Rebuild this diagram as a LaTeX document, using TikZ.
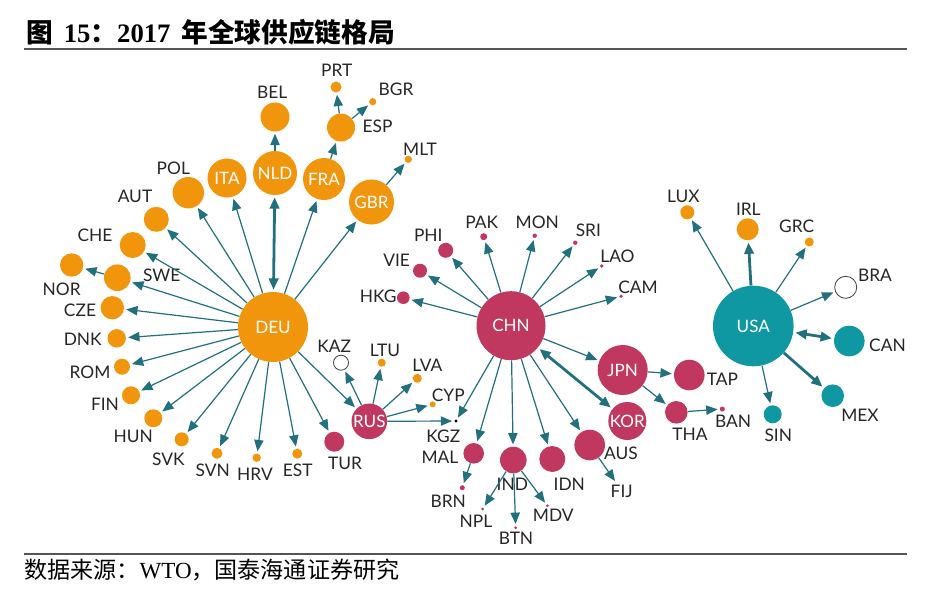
\documentclass[tikz,border=0pt]{standalone}
\usepackage{fontspec}
\setmainfont{Lato}
\newfontfamily\cjk{Noto Sans CJK SC}
\newfontfamily\lat{Liberation Serif}
\usetikzlibrary{arrows.meta}
\definecolor{orC}{RGB}{241,150,12}
\definecolor{rdC}{RGB}{192,55,95}
\definecolor{tlC}{RGB}{16,152,162}
\definecolor{arC}{RGB}{34,112,126}
\definecolor{ruleC}{RGB}{85,85,85}
\begin{document}
\begin{tikzpicture}[x=0.75pt,y=-0.75pt,
  nd/.style={circle,inner sep=0pt,minimum size=#1*1.5pt},
  on/.style={nd=#1,fill=orC},
  rn/.style={nd=#1,fill=rdC},
  tn/.style={nd=#1,fill=tlC},
  hn/.style={nd=#1,draw=black!75,line width=0.6pt,fill=white},
  kn/.style={nd=#1,fill=black},
  lab/.style={font=\fontsize{13}{15}\selectfont,text=black!85,inner sep=0pt},
  wl/.style={text=white,font=\fontsize{12.8}{15}\selectfont},
  tipA/.tip={Triangle[length=8.5pt,width=7pt]},
  ar/.style={draw=arC,line width=0.9pt,-tipA,shorten >=1.5pt},
  tk/.style={ar,line width=2.1pt},
  dbl/.style={tk,tipA-tipA,shorten <=1.5pt}
]
\useasboundingbox[fill=white] (0,0) rectangle (927,590);
% title and rules
\node[anchor=base west,inner sep=0pt] (title) at (26,42) {\fontsize{20}{24}\selectfont\bfseries{\cjk 图}\, {\lat 15}{\cjk ：}{\lat 2017}\, {\cjk 年全球供应链格局}};
\draw[ruleC,line width=1.5pt] (24,48.5) -- (907,48.5);
\draw[ruleC,line width=1.5pt] (24,554) -- (907,554);
\node[anchor=base west,inner sep=0pt] (source) at (24,578) {\fontsize{17.3}{20}\selectfont{\cjk 数据来源：}{\lat WTO}{\cjk ，国泰海通证券研究}};

% ---------- DEU cluster ----------
\node[on=35,wl] (DEU) at (273,327) {DEU};
\node[on=22,wl] (NLD) at (275,173) {NLD};
\node[on=14.5] (BEL) at (275,117) {};
\node[on=19.5,wl] (ITA) at (227,178) {ITA};
\node[on=21,wl] (FRA) at (324,179) {FRA};
\node[on=22.5,wl] (GBR) at (371.5,202) {GBR};
\node[on=14] (ESP) at (341,127.5) {};
\node[on=5.5] (PRT) at (336,87) {};
\node[on=3.6] (BGR) at (372.7,101.7) {};
\node[on=3.6] (MLT) at (408.3,159.3) {};
\node[on=15.7] (POL) at (188.3,192.7) {};
\node[on=12.5] (AUT) at (156.3,219.3) {};
\node[on=13] (CHE) at (132.7,245) {};
\node[on=11.7] (NOR) at (71.7,265) {};
\node[on=13.3] (SWE) at (117.3,277.7) {};
\node[on=11.7] (CZE) at (112.3,307.7) {};
\node[on=9.2] (DNK) at (116.7,338.3) {};
\node[on=8] (ROM) at (122,366.7) {};
\node[on=9] (FIN) at (131,395.3) {};
\node[on=9] (HUN) at (153.3,418.3) {};
\node[on=7] (SVK) at (181.7,439.3) {};
\node[on=5.5] (SVN) at (217,453.3) {};
\node[on=4.2] (HRV) at (256.7,457.7) {};
\node[on=5] (EST) at (297.3,453.7) {};
\node[rn=10] (TUR) at (334.3,441.7) {};
\node[hn=7.5] (KAZ) at (341,362.7) {};
\node[rn=17.8,wl] (RUS) at (369.3,421.3) {RUS};
\node[on=4] (LTU) at (381.7,362.7) {};
\node[on=4.5] (LVA) at (417.3,378.3) {};
\node[on=3] (CYP) at (432.7,404.3) {};
\node[kn=1.6] (KGZ) at (456,421) {};

\node[lab] (lBEL) at (272.3,92.7) {BEL};
\node[lab] (lPRT) at (336.7,70) {PRT};
\node[lab] (lBGR) at (396,89.3) {BGR};
\node[lab] (lESP) at (377.5,126.7) {ESP};
\node[lab] (lMLT) at (420,149.3) {MLT};
\node[lab] (lPOL) at (173.3,168.3) {POL};
\node[lab] (lAUT) at (135,196.7) {AUT};
\node[lab] (lCHE) at (95,235) {CHE};
\node[lab] (lNOR) at (61.7,289) {NOR};
\node[lab] (lSWE) at (161.7,275) {SWE};
\node[lab] (lCZE) at (80,310) {CZE};
\node[lab] (lDNK) at (82.7,339) {DNK};
\node[lab] (lROM) at (90,372.7) {ROM};
\node[lab] (lFIN) at (105,404.3) {FIN};
\node[lab] (lHUN) at (133.3,436) {HUN};
\node[lab] (lSVK) at (168.3,459.3) {SVK};
\node[lab] (lSVN) at (212.7,470) {SVN};
\node[lab] (lHRV) at (255,474.3) {HRV};
\node[lab] (lEST) at (297.7,470) {EST};
\node[lab] (lTUR) at (345,463.3) {TUR};
\node[lab] (lKAZ) at (334.3,346) {KAZ};
\node[lab] (lLTU) at (385,350) {LTU};
\node[lab] (lLVA) at (427.3,365) {LVA};
\node[lab] (lCYP) at (448.3,395) {CYP};
\node[lab] (lKGZ) at (443.3,436.7) {KGZ};

% ---------- CHN cluster ----------
\node[rn=34.5,wl] (CHN) at (511,325.7) {CHN};
\node[rn=6.3] (HKG) at (403.3,297.7) {};
\node[rn=7] (VIE) at (420,270.7) {};
\node[rn=7.5] (PHI) at (445.7,250.3) {};
\node[rn=3.5] (PAK) at (483.7,236.7) {};
\node[rn=2.2] (MON) at (534.7,235.7) {};
\node[rn=2.2] (SRI) at (575.3,242.7) {};
\node[rn=1.8] (LAO) at (601.7,266) {};
\node[rn=1.8] (CAM) at (621,296.3) {};
\node[rn=10.3] (MAL) at (473.7,453.3) {};
\node[rn=2.5] (BRN) at (462.3,487.7) {};
\node[rn=13.3] (IND) at (513.3,460) {};
\node[rn=1.5] (NPL) at (482.7,509) {};
\node[rn=1.5] (BTN) at (515.7,527.7) {};
\node[rn=1.5] (MDV) at (547.3,505.7) {};
\node[rn=13] (IDN) at (552.3,459) {};
\node[rn=15.3] (AUS) at (589.7,445) {};
\coordinate (FIJ) at (615,481);
\node[rn=19,wl] (KOR) at (627.3,421) {KOR};
\node[rn=25,wl] (JPN) at (622.7,370) {JPN};
\node[rn=15.3] (TAP) at (689.3,375) {};
\node[rn=11.3] (THA) at (676.3,412.3) {};
\node[rn=2.5] (BAN) at (722.3,409) {};

\node[lab] (lHKG) at (378.3,296.7) {HKG};
\node[lab] (lVIE) at (396.7,260) {VIE};
\node[lab] (lPHI) at (428.3,235) {PHI};
\node[lab] (lPAK) at (481.7,222.3) {PAK};
\node[lab] (lMON) at (537.3,222.3) {MON};
\node[lab] (lSRI) at (588.3,230.7) {SRI};
\node[lab] (lLAO) at (617.5,256.7) {LAO};
\node[lab] (lCAM) at (638,287.3) {CAM};
\node[lab] (lMAL) at (440,457.3) {MAL};
\node[lab] (lBRN) at (448.3,501.7) {BRN};
\node[lab] (lIND) at (512.3,484.3) {IND};
\node[lab] (lNPL) at (476,521.7) {NPL};
\node[lab] (lBTN) at (516,538.3) {BTN};
\node[lab] (lMDV) at (553.3,515.7) {MDV};
\node[lab] (lIDN) at (569.3,484) {IDN};
\node[lab] (lAUS) at (621,453.3) {AUS};
\node[lab] (lFIJ) at (621.7,491) {FIJ};
\node[lab] (lTAP) at (722.5,379) {TAP};
\node[lab] (lTHA) at (690,434.3) {THA};
\node[lab] (lBAN) at (733,421.7) {BAN};

% ---------- USA cluster ----------
\node[tn=40.3,wl] (USA) at (753.3,326) {USA};
\node[on=7] (LUX) at (687.3,212.3) {};
\node[on=11] (IRL) at (747.7,229.3) {};
\node[on=4.5] (GRC) at (809.3,242) {};
\node[hn=11] (BRA) at (845.7,287.3) {};
\node[tn=15.3] (CAN) at (849.3,341) {};
\node[tn=11.3] (MEX) at (832.7,395.7) {};
\node[tn=9] (SIN) at (772.7,414.3) {};

\node[lab] (lLUX) at (683.3,196.7) {LUX};
\node[lab] (lIRL) at (748.3,209.3) {IRL};
\node[lab] (lGRC) at (796.7,226.7) {GRC};
\node[lab] (lBRA) at (875,275.7) {BRA};
\node[lab] (lCAN) at (887.5,345) {CAN};
\node[lab] (lMEX) at (860,415) {MEX};
\node[lab] (lSIN) at (778.3,435) {SIN};

% ---------- connectors ----------
\draw[dbl] (DEU) -- (NLD);
\foreach \t in {ITA,FRA,GBR,POL,AUT,CHE,SWE,CZE,DNK,ROM,FIN,HUN,SVK,SVN,HRV,EST,TUR,RUS}
  \draw[ar] (DEU) -- (\t);
\draw[ar] (NLD) -- (BEL);
\draw[ar] (SWE) -- (NOR);
\draw[ar] (FRA) -- (ESP);
\draw[ar] (ESP) -- (PRT);
\draw[ar] (ESP) -- (BGR);
\draw[ar] (GBR) -- (MLT);
\foreach \t in {KAZ,LTU,LVA,CYP,KGZ}
  \draw[ar] (RUS) -- (\t);
\foreach \t in {HKG,VIE,PHI,PAK,MON,SRI,LAO,CAM,JPN,KGZ,MAL,IND,IDN,AUS}
  \draw[ar] (CHN) -- (\t);
\draw[dbl] (CHN) -- (KOR);
\draw[ar] (MAL) -- (BRN);
\foreach \t in {NPL,BTN,MDV}
  \draw[ar] (IND) -- (\t);
\draw[ar,shorten >=0pt] (AUS) -- (FIJ);
\draw[ar] (JPN) -- (TAP);
\draw[ar] (JPN) -- (THA);
\draw[ar] (THA) -- (BAN);
\foreach \t in {LUX,GRC,BRA,SIN}
  \draw[ar] (USA) -- (\t);
\draw[tk] (USA) -- (IRL);
\draw[tk] (USA) -- (MEX);
\draw[dbl] (USA) -- (CAN);
\end{tikzpicture}
\end{document}
